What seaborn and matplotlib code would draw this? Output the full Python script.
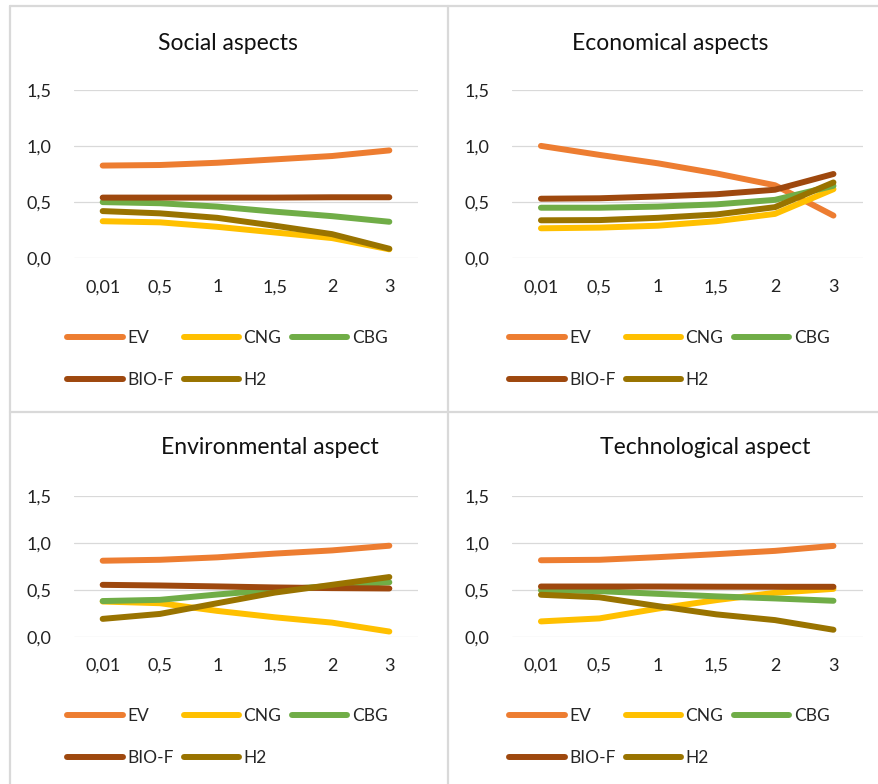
import matplotlib
matplotlib.use("Agg")
import matplotlib.pyplot as plt
from matplotlib.lines import Line2D
import seaborn as sns
import pandas as pd

# categories on the x axis
x_labels = ["0,01", "0,5", "1", "1,5", "2", "3"]
fuels = ["EV", "CNG", "CBG", "BIO-F", "H2"]
colors = ["#ED7D31", "#FFC000", "#70AD47", "#9E480E", "#997300"]

# values, per panel
social = {
    "EV":    [0.825, 0.83, 0.85, 0.88, 0.91, 0.96],
    "CNG":   [0.33, 0.32, 0.28, 0.23, 0.18, 0.08],
    "CBG":   [0.50, 0.49, 0.46, 0.415, 0.375, 0.325],
    "BIO-F": [0.54, 0.54, 0.54, 0.54, 0.543, 0.543],
    "H2":    [0.42, 0.40, 0.36, 0.29, 0.215, 0.085],
}
economical = {
    "EV":    [1.0, 0.92, 0.845, 0.755, 0.65, 0.38],
    "CNG":   [0.267, 0.273, 0.29, 0.33, 0.395, 0.615],
    "CBG":   [0.45, 0.45, 0.46, 0.48, 0.52, 0.645],
    "BIO-F": [0.53, 0.534, 0.55, 0.57, 0.61, 0.75],
    "H2":    [0.338, 0.34, 0.36, 0.39, 0.455, 0.675],
}
environmental = {
    "EV":    [0.81, 0.82, 0.846, 0.886, 0.92, 0.97],
    "CNG":   [0.375, 0.357, 0.275, 0.207, 0.15, 0.055],
    "CBG":   [0.38, 0.393, 0.45, 0.50, 0.54, 0.58],
    "BIO-F": [0.553, 0.546, 0.536, 0.525, 0.518, 0.514],
    "H2":    [0.19, 0.243, 0.357, 0.47, 0.553, 0.636],
}
technological = {
    "EV":    [0.815, 0.82, 0.848, 0.88, 0.915, 0.968],
    "CNG":   [0.163, 0.195, 0.30, 0.39, 0.468, 0.51],
    "CBG":   [0.496, 0.486, 0.457, 0.43, 0.408, 0.383],
    "BIO-F": [0.535, 0.535, 0.535, 0.533, 0.532, 0.532],
    "H2":    [0.447, 0.42, 0.326, 0.238, 0.177, 0.074],
}
titles = ["Social aspects", "Economical aspects", "Environmental aspect", "Technological aspect"]
y_ticks = [0.0, 0.5, 1.0, 1.5]
y_tick_labels = ["0,0", "0,5", "1,0", "1,5"]

sns.set_theme(style="white")
plt.rcParams["font.family"] = ["Lato", "DejaVu Sans"]

W, H = 879, 784
fig = plt.figure(figsize=(W / 100, H / 100), dpi=100)


def px_rect(x0, y_top, x1, y_bot):
    return [x0 / W, 1 - y_bot / H, (x1 - x0) / W, (y_bot - y_top) / H]


# plot area pixel boxes: (left, top, right, bottom)
boxes = [
    (74, 89.7, 418, 258.3),
    (511.7, 89.7, 862.7, 258.3),
    (74, 496, 418, 636.7),
    (511.7, 496, 862.7, 636.7),
]
title_pos = [(228, 43), (670, 43), (270, 448), (705, 448)]
legend_pos = [(67, 330), (509, 330), (67, 708), (509, 708)]
panels = [social, economical, environmental, technological]

for data, box, title, tpos, lpos in zip(panels, boxes, titles, title_pos, legend_pos):
    rows = []
    for f in fuels:
        for xl, v in zip(x_labels, data[f]):
            rows.append({"x": xl, "fuel": f, "value": v})
    df = pd.DataFrame(rows)

    ax = fig.add_axes(px_rect(*box))
    sns.lineplot(data=df, x="x", y="value", hue="fuel", hue_order=fuels,
                 palette=colors, sort=False, linewidth=4.3, legend=False, ax=ax)
    for ln in ax.get_lines():
        ln.set_solid_capstyle("round")
        ln.set_clip_on(False)
        ln.set_zorder(3)

    ax.set_xlim(-0.5, 5.5)
    ax.set_ylim(0, 1.5)
    ax.set_yticks(y_ticks)
    ax.set_yticklabels(y_tick_labels)
    ax.set_xlabel("")
    ax.set_ylabel("")
    ax.grid(axis="y", color="#D9D9D9", linewidth=0.9)
    ax.grid(axis="x", visible=False)
    ax.set_axisbelow(True)
    sns.despine(ax=ax, left=True, bottom=True)
    ax.tick_params(axis="y", length=0, pad=16, labelsize=13, colors="#222222")
    ax.tick_params(axis="x", length=0, pad=15, labelsize=13, colors="#222222")

    fig.text(tpos[0] / W, 1 - tpos[1] / H, title, ha="center", va="center",
             fontsize=16.5, color="#111111")

    handles = [Line2D([], [], color=c, lw=4.3, solid_capstyle="round") for c in colors]
    order = [0, 3, 1, 4, 2]
    fig.legend([handles[i] for i in order], [fuels[i] for i in order],
               loc="upper left", bbox_to_anchor=(lpos[0] / W, 1 - lpos[1] / H),
               ncol=3, frameon=False, fontsize=12.5, handlelength=3.2,
               handletextpad=0.25, columnspacing=0.6, borderpad=0,
               borderaxespad=0, labelspacing=1.5)

# panel separators
border = dict(color="#D9D9D9", linewidth=1.6)
fig.add_artist(Line2D([10 / W, 1], [1 - 6 / H, 1 - 6 / H], transform=fig.transFigure, **border))
fig.add_artist(Line2D([10 / W, 10 / W], [0, 1 - 6 / H], transform=fig.transFigure, **border))
fig.add_artist(Line2D([448 / W, 448 / W], [0, 1 - 6 / H], transform=fig.transFigure, **border))
fig.add_artist(Line2D([10 / W, 1], [1 - 412 / H, 1 - 412 / H], transform=fig.transFigure, **border))

fig.savefig("out.png", dpi=100)
